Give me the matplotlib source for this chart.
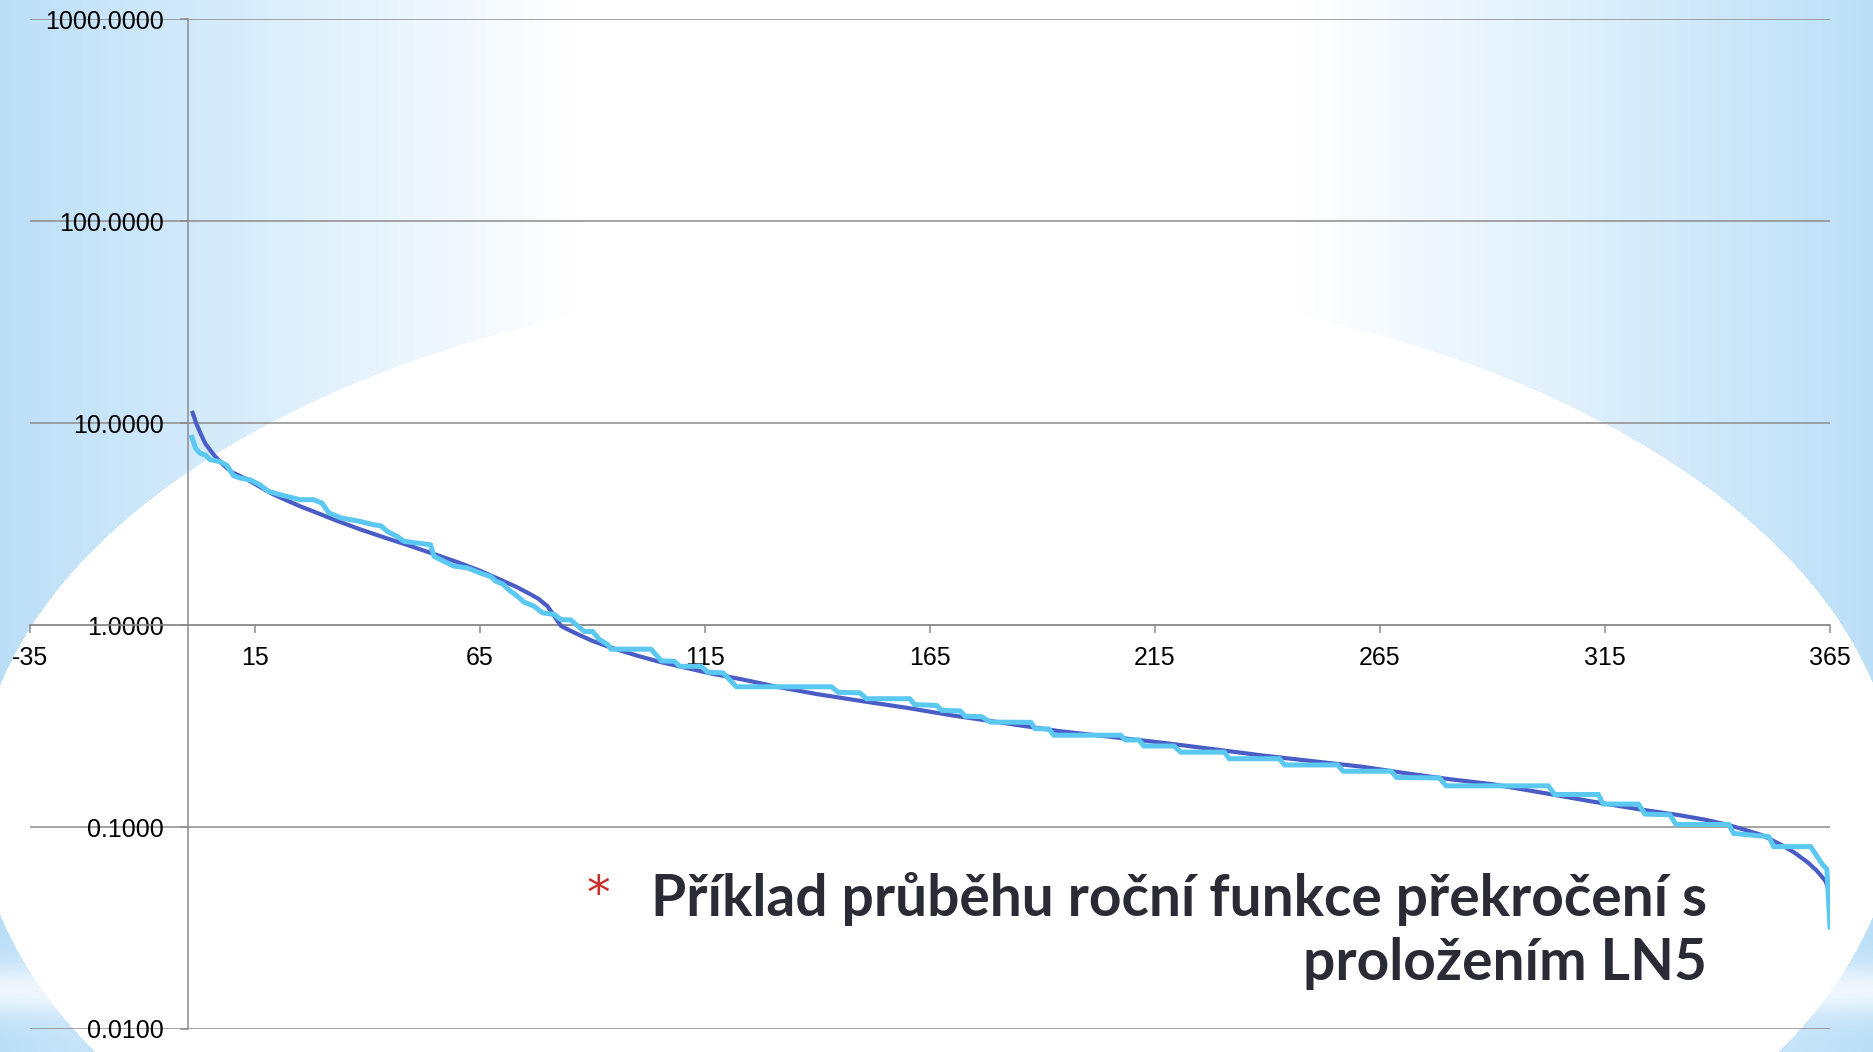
import numpy as np
import matplotlib
matplotlib.use("Agg")
import matplotlib.pyplot as plt
from matplotlib.ticker import FixedLocator, FormatStrFormatter, NullLocator

plt.rcParams["axes.unicode_minus"] = False

# prolozeni LN5 (den, hodnota)
fit_days = [1, 2, 3, 4, 6, 8, 10, 13, 16, 19, 22, 25, 29, 33, 38, 43, 48, 54, 60, 65,
            70, 73, 76, 78, 80, 81.5, 83, 85, 87, 90, 94, 100, 105, 110, 116, 123, 131,
            140, 150, 160, 170, 180, 194, 205, 217, 228, 239, 250, 261, 272, 281, 290,
            301, 312, 322, 331, 337, 342, 346, 350, 354, 357, 360, 362, 364, 365]
fit_vals = [11.5, 9.9, 8.8, 7.9, 6.9, 6.2, 5.7, 5.3, 4.85, 4.45, 4.15, 3.88, 3.58, 3.3,
            3.0, 2.75, 2.53, 2.28, 2.05, 1.86, 1.66, 1.55, 1.43, 1.35, 1.24, 1.11, 0.99,
            0.94, 0.895, 0.835, 0.775, 0.705, 0.657, 0.62, 0.578, 0.54, 0.495, 0.455,
            0.42, 0.389, 0.357, 0.331, 0.298, 0.28, 0.261, 0.243, 0.226, 0.212, 0.199,
            0.183, 0.172, 0.163, 0.148, 0.134, 0.123, 0.115, 0.109, 0.103, 0.097, 0.091,
            0.082, 0.075, 0.067, 0.061, 0.054, 0.047]

# namerena funkce prekroceni (rohy schodu)
emp_days = [1, 1.8, 2.8, 4, 5, 7.2, 8.7, 10.2, 11.7, 13.9, 16.1, 18, 20.6, 22.8, 25, 28,
            29.9, 31.4, 34, 38.4, 41.4, 43, 44.5, 46.6, 48.1, 51.1, 54, 54.8, 57, 59.2,
            62.2, 65.1, 67.4, 68.5, 70, 71.8, 72.8, 74.8, 77, 78.9, 81.5, 83, 85.2, 86.7,
            88.2, 90, 91.5, 93.4, 94.1, 103, 105.3, 108.2, 109.4, 114.2, 115.6, 119, 122,
            143.1, 144.6, 149.4, 150.9, 160.5, 161.6, 166.5, 167.6, 171.7, 172.8, 176.5,
            178.4, 187.4, 188.4, 191.4, 192.5, 207.4, 208.4, 211.4, 212.5, 219.2, 220.7,
            230.4, 231.5, 242.6, 243.8, 255.6, 256.8, 267.5, 268.7, 278.2, 279.7, 302.4,
            303.8, 313.5, 314.6, 322.4, 323.9, 329.4, 330.8, 342.5, 343.6, 351.4, 352.5,
            360.7, 363.3, 364.3, 365]
emp_vals = [8.5, 7.5, 7.1, 6.95, 6.6, 6.45, 6.2, 5.5, 5.35, 5.24, 4.95, 4.6, 4.42, 4.3,
            4.18, 4.18, 4.02, 3.6, 3.4, 3.26, 3.14, 3.1, 2.9, 2.75, 2.6, 2.55, 2.5, 2.19,
            2.07, 1.96, 1.92, 1.81, 1.74, 1.65, 1.6, 1.47, 1.42, 1.3, 1.24, 1.15, 1.13,
            1.065, 1.06, 0.99, 0.93, 0.93, 0.85, 0.80, 0.76, 0.76, 0.665, 0.662, 0.625,
            0.625, 0.585, 0.58, 0.495, 0.495, 0.465, 0.462, 0.432, 0.432, 0.404, 0.40,
            0.378, 0.376, 0.354, 0.352, 0.331, 0.33, 0.307, 0.306, 0.285, 0.285, 0.27,
            0.27, 0.252, 0.252, 0.235, 0.235, 0.218, 0.218, 0.203, 0.203, 0.189, 0.189,
            0.176, 0.175, 0.16, 0.16, 0.145, 0.145, 0.13, 0.13, 0.116, 0.115, 0.103,
            0.103, 0.093, 0.0896, 0.080, 0.080, 0.0654, 0.062, 0.032]

x_ticks = [-35, 15, 65, 115, 165, 215, 265, 315, 365]
y_ticks = [0.01, 0.1, 1, 10, 100, 1000]
title_lines = ["Příklad průběhu roční funkce překročení s", "proložením LN5"]

W, H = 1874, 1052
blue = np.array([0.735, 0.875, 0.973])


def pozadi():
    # bile ovalne pole uprostred, modre prechody v rozich
    yy, xx = np.mgrid[0:H, 0:W] + 0.5
    w = np.clip((np.abs(xx - 937) - 360) / 577.0, 0, 1)
    band = 1 - 0.75 * np.exp(-((yy - 990) / 25.0) ** 2)
    w = np.where(yy > 850, w * band, w)
    inside = ((xx - 937) / 960.0) ** 2 + ((yy - 800) / 524.0) ** 2 <= 1
    w[inside] = 0
    img = 1 - w[..., None] * (1 - blue)
    return img


fig = plt.figure(figsize=(W / 100, H / 100), dpi=100)
bg = fig.add_axes([0, 0, 1, 1])
bg.imshow(pozadi(), extent=[0, W, H, 0], aspect="auto", interpolation="nearest")
bg.set_axis_off()

# plocha grafu: x 30..1830 px, y 19..1029 px
ax = fig.add_axes([30 / W, 1 - 1029 / H, 1800 / W, (1029 - 19.3) / H])
ax.patch.set_alpha(0)
ax.set_yscale("log")
ax.set_xlim(-35, 365)
ax.set_ylim(0.01, 1000)

gray = "#8c8c8c"
ax.set_axisbelow(True)
ax.grid(axis="y", which="major", color=gray, lw=1.1)
ax.spines["top"].set_visible(False)
ax.spines["right"].set_visible(False)
ax.spines["left"].set_position(("data", 0))
ax.spines["bottom"].set_position(("data", 1))
for s in ["left", "bottom"]:
    ax.spines[s].set_color(gray)
    ax.spines[s].set_linewidth(1.1)

ax.xaxis.set_major_locator(FixedLocator(x_ticks))
ax.yaxis.set_major_locator(FixedLocator(y_ticks))
ax.yaxis.set_minor_locator(NullLocator())
ax.yaxis.set_major_formatter(FormatStrFormatter("%.4f"))
ax.tick_params(axis="x", direction="out", length=5.8, width=1.1, color=gray, pad=9,
               labelsize=18)
ax.tick_params(axis="y", direction="out", length=5.8, width=1.1, color=gray, pad=11,
               labelsize=18)
for lab in ax.get_xticklabels() + ax.get_yticklabels():
    lab.set_fontfamily("Liberation Sans")

ax.plot(fit_days, fit_vals, color="#4a5dc7", lw=3.0, solid_capstyle="butt", zorder=3)
ax.plot(emp_days, emp_vals, color="#5ac8f0", lw=3.6, solid_joinstyle="miter", zorder=4)

# popisek
fig.text(598 / W, 1 - 908 / H, "*", color="#c9302c", fontsize=34, ha="center",
         va="baseline", family="DejaVu Sans")
t1 = fig.text(1707 / W, 1 - 916 / H, title_lines[0], color="#2b2b35", fontsize=38,
              fontweight="bold", family=["Lato", "DejaVu Sans"], ha="right", va="baseline")
fig.canvas.draw()
bb = t1.get_window_extent(fig.canvas.get_renderer())
fs = 38 * 1058.0 / bb.width
t1.set_fontsize(fs)
fig.text(1707 / W, 1 - 980 / H, title_lines[1], color="#2b2b35", fontsize=fs,
         fontweight="bold", family=["Lato", "DejaVu Sans"], ha="right", va="baseline")

fig.savefig("out.png", dpi=100)
